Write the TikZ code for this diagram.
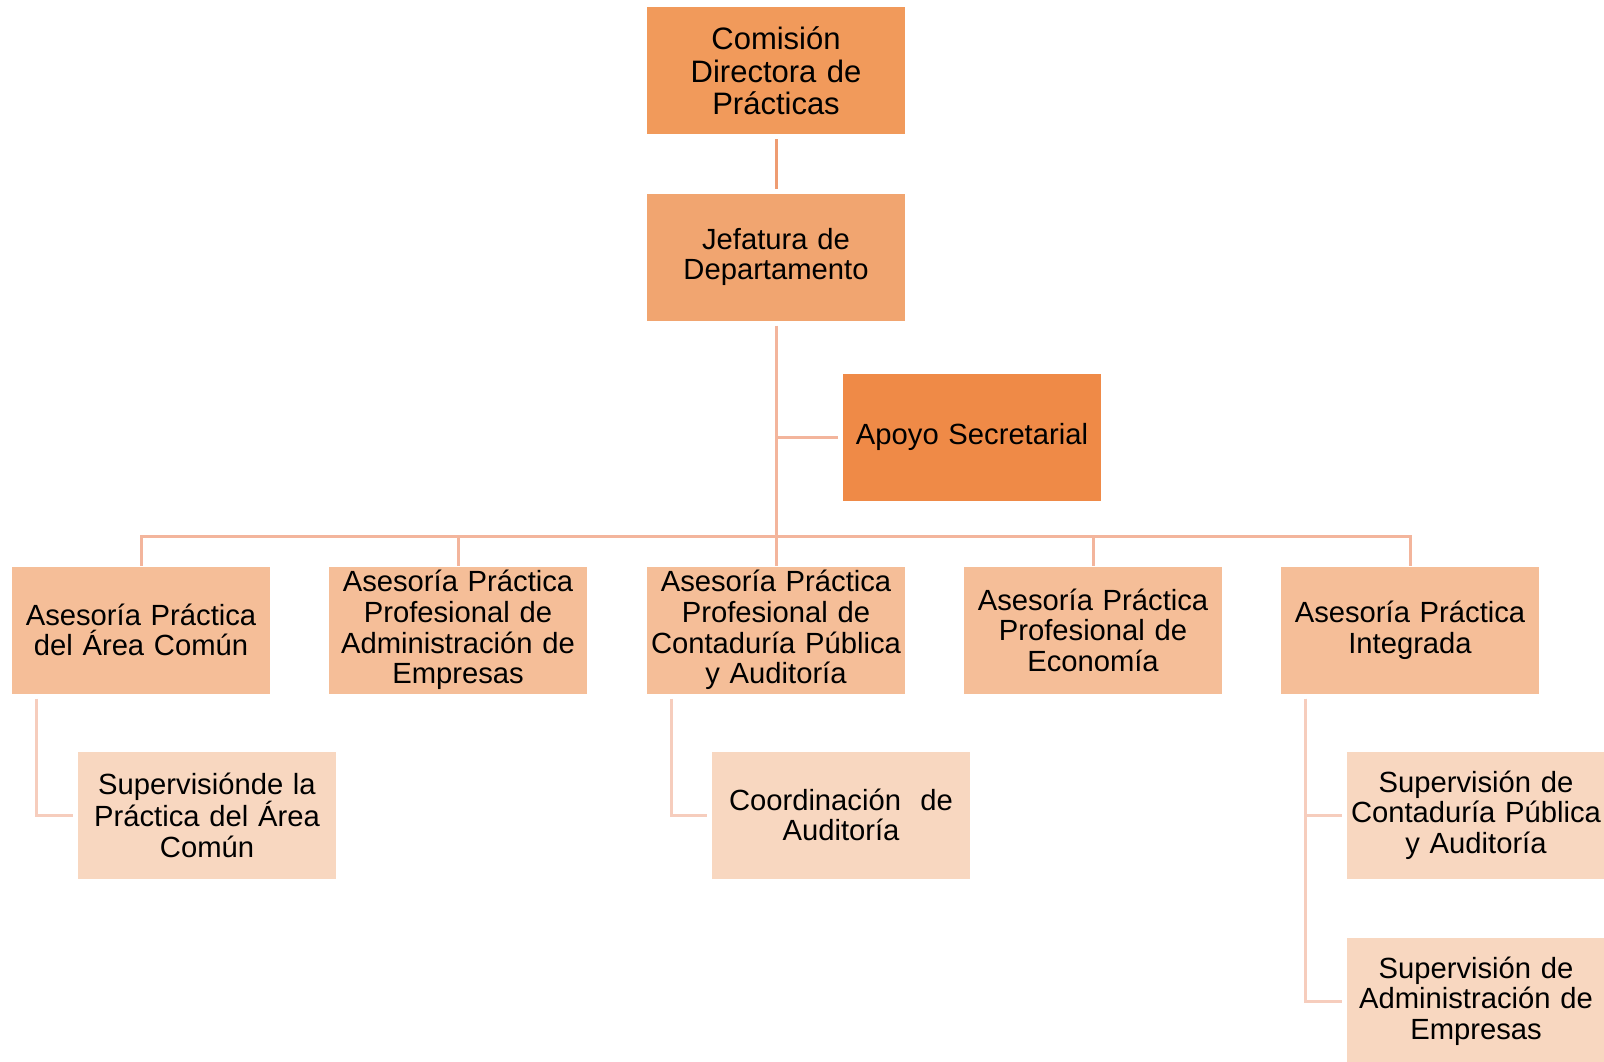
\documentclass[tikz,border=0pt]{standalone}
\usepackage{fontspec}
\setmainfont{Liberation Sans}
\usepackage{tikz}
\usetikzlibrary{positioning}

\definecolor{comcol}{HTML}{F19A5B}
\definecolor{jefcol}{HTML}{F1A570}
\definecolor{apocol}{HTML}{EF8A47}
\definecolor{asecol}{HTML}{F5BE98}
\definecolor{supcol}{HTML}{F8D7C0}
\definecolor{linetop}{HTML}{EE9C72}
\definecolor{linemid}{HTML}{F3B59C}
\definecolor{linelow}{HTML}{F6CDBD}

\tikzset{
  orgbox/.style={draw=white, line width=1pt, minimum width=259pt, minimum height=128pt,
    text width=258pt, align=center, inner sep=0pt,
    font=\fontsize{29.2}{30.6}\selectfont},
  link/.style={line width=3pt},
}

\begin{document}
\begin{tikzpicture}[x=1pt,y=-1pt]
    \useasboundingbox (0,0) rectangle (1604,1062);
    % top of the chart
    \node[orgbox, fill=comcol, font=\fontsize{31}{32.5}\selectfont] (com) at (776,71) {Comisión\\Directora de\\Prácticas};
    \node[orgbox, fill=jefcol] (jef) at (776,257) {Jefatura de\\Departamento};
    \node[orgbox, fill=apocol] (apo) at (972,437) {Apoyo Secretarial};
    \coordinate (bus) at (776,536);
    % second row
    \node[orgbox, fill=asecol] (ase1) at (141,630) {Asesoría Práctica\\del Área Común};
    \node[orgbox, fill=asecol] (ase2) at (458,630) {Asesoría Práctica\\Profesional de\\Administración de\\Empresas};
    \node[orgbox, fill=asecol] (ase3) at (776,630) {Asesoría Práctica\\Profesional de\\Contaduría Pública\\y Auditoría};
    \node[orgbox, fill=asecol] (ase4) at (1093,630) {Asesoría Práctica\\Profesional de\\Economía};
    \node[orgbox, fill=asecol] (ase5) at (1410,630) {Asesoría Práctica\\Integrada};
    % third row
    \node[orgbox, fill=supcol] (sup1) at (207,815) {Supervisiónde la\\Práctica del Área\\Común};
    \node[orgbox, fill=supcol] (coo) at (841,815) {Coordinación~~de\\Auditoría};
    \node[orgbox, fill=supcol] (sup2) at (1476,815) {Supervisión de\\Contaduría Pública\\y Auditoría};
    \node[orgbox, fill=supcol] (sup3) at (1476,1001) {Supervisión de\\Administración de\\Empresas};

    \draw[link, linetop, shorten <=4pt, shorten >=4pt] (com.south) -- (jef.north);
    \draw[link, linemid, shorten <=4pt] (jef.south) -- (ase3.north);
    \draw[link, linemid, shorten <=4pt] (apo.west) -- (apo.west -| jef.south);
    \draw[link, linemid] (ase1.north) |- (bus);
    \draw[link, linemid] (ase5.north) |- (bus);
    \draw[link, linemid] (ase2.north) -- (ase2.north |- bus);
    \draw[link, linemid] (ase4.north) -- (ase4.north |- bus);
    \draw[link, linelow, shorten >=4pt] ([xshift=25pt,yshift=-4pt]ase1.south west) |- (sup1.west);
    \draw[link, linelow, shorten >=4pt] ([xshift=25pt,yshift=-4pt]ase3.south west) |- (coo.west);
    \draw[link, linelow, shorten >=4pt] ([xshift=25pt,yshift=-4pt]ase5.south west) |- (sup2.west);
    \draw[link, linelow, shorten >=4pt] ([xshift=25pt,yshift=-4pt]ase5.south west) |- (sup3.west);
\end{tikzpicture}
\end{document}
